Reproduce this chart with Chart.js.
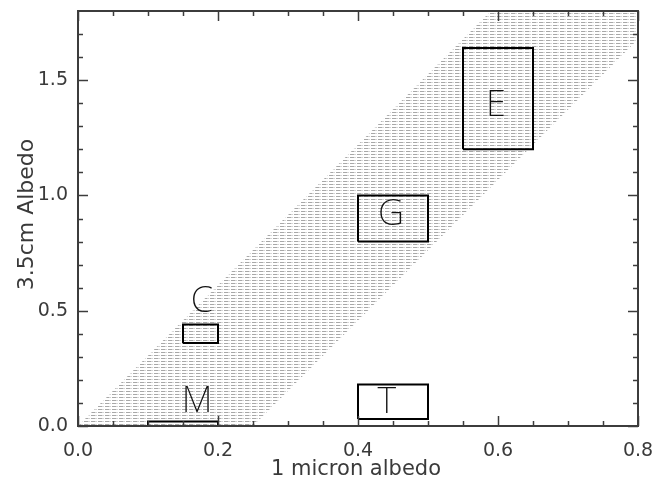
<!DOCTYPE html>
<html>
<head>
<meta charset="utf-8">
<script src="https://cdn.jsdelivr.net/npm/chart.js@4.4.1/dist/chart.umd.min.js"></script>
<style>
  html, body { margin: 0; padding: 0; background: #fff; }
  #wrap { width: 655px; height: 482px; }
</style>
</head>
<body>
<div id="wrap"><canvas id="albedo"></canvas></div>
<script>
// Boxes in the 1 micron / 3.5cm albedo plane
const boxNames = ['E', 'G', 'C', 'M', 'T'];
const boxXMin = [0.55, 0.40, 0.15, 0.10, 0.40];
const boxXMax = [0.65, 0.50, 0.20, 0.20, 0.50];
const boxYMin = [1.20, 0.80, 0.36, 0.00, 0.03];
const boxYMax = [1.64, 1.00, 0.44, 0.02, 0.18];
// where the letter for each box sits
const letterX = [0.597, 0.447, 0.177, 0.170, 0.441];
const letterY = [1.39, 0.915, 0.54, 0.105, 0.10];

// corners of the hatched band
const bandX = [0.00, 0.25, 0.84, 0.59];
const bandY = [0.00, 0.00, 1.80, 1.80];

// axis ticks
const xMajor = [0, 0.2, 0.4, 0.6, 0.8];
const yMajor = [0, 0.5, 1.0, 1.5];
const xMinor = [0.05, 0.1, 0.15, 0.25, 0.3, 0.35, 0.45, 0.5, 0.55, 0.65, 0.7, 0.75];
const yMinor = [0.1, 0.2, 0.3, 0.4, 0.6, 0.7, 0.8, 0.9, 1.1, 1.2, 1.3, 1.4, 1.6, 1.7];

const FONT = '"DejaVu Sans", sans-serif';
const TEXT = '#3a3a3a';

function hatchPattern() {
    // light horizontal dotted lines every 3px
    const p = document.createElement('canvas');
    p.width = 7;
    p.height = 3;
    const g = p.getContext('2d');
    g.fillStyle = '#a8a8a8';
    g.fillRect(0, 1, 4, 1);
    g.fillStyle = '#d6d6d6';
    g.fillRect(4, 1, 2, 1);
    return g.createPattern(p, 'repeat');
}

const ctx = document.getElementById('albedo').getContext('2d');

// the band goes underneath everything (higher order is drawn first)
const datasets = [{
    data: bandX.map((x, i) => ({ x, y: bandY[i] })),
    order: 10,
    showLine: true,
    fill: 'shape',
    backgroundColor: hatchPattern(),
    borderColor: 'rgba(0,0,0,0)',
    borderWidth: 0,
    pointRadius: 0
}];

boxNames.forEach((name, i) => {
    datasets.push({
        label: name,
        order: 0,
        data: [
            { x: boxXMin[i], y: boxYMin[i] },
            { x: boxXMax[i], y: boxYMin[i] },
            { x: boxXMax[i], y: boxYMax[i] },
            { x: boxXMin[i], y: boxYMax[i] },
            { x: boxXMin[i], y: boxYMin[i] }
        ],
        showLine: true,
        fill: false,
        borderColor: '#000',
        borderWidth: 2,
        borderJoinStyle: 'miter',
        pointRadius: 0,
        tension: 0
    });
});

// frame, inward ticks, box letters and axis titles
const decorations = {
    id: 'decorations',
    afterDatasetsDraw(chart) {
        const { ctx, chartArea: a, scales: { x, y } } = chart;
        ctx.save();

        ctx.strokeStyle = '#3c3c3c';
        ctx.lineWidth = 2;
        ctx.strokeRect(a.left, a.top, a.right - a.left, a.bottom - a.top);

        const line = (x1, y1, x2, y2) => {
            ctx.beginPath();
            ctx.moveTo(x1, y1);
            ctx.lineTo(x2, y2);
            ctx.stroke();
        };
        ctx.lineWidth = 1.5;
        const xTicks = (vals, len) => vals.forEach(v => {
            const px = Math.round(x.getPixelForValue(v)) + 0.5;
            line(px, a.bottom, px, a.bottom - len);
            line(px, a.top, px, a.top + len);
        });
        const yTicks = (vals, len) => vals.forEach(v => {
            const py = Math.round(y.getPixelForValue(v)) + 0.5;
            line(a.left, py, a.left + len, py);
            line(a.right, py, a.right - len, py);
        });
        xTicks(xMajor, 10);
        xTicks(xMinor, 5);
        yTicks(yMajor, 10);
        yTicks(yMinor, 5);

        ctx.fillStyle = '#111';
        ctx.font = '200 36px "Noto Sans", sans-serif';
        ctx.textAlign = 'center';
        ctx.textBaseline = 'middle';
        boxNames.forEach((name, i) => {
            ctx.fillText(name, x.getPixelForValue(letterX[i]), y.getPixelForValue(letterY[i]));
        });

        // axis titles, centred on each axis
        ctx.fillStyle = TEXT;
        ctx.font = '21px ' + FONT;
        ctx.textBaseline = 'alphabetic';
        ctx.fillText('1 micron albedo', (a.left + a.right) / 2 - 2, 475);

        ctx.translate(33, (a.top + a.bottom) / 2 - 4);
        ctx.rotate(-Math.PI / 2);
        ctx.font = '22px ' + FONT;
        ctx.fillText('3.5cm Albedo', 0, 0);
        ctx.restore();
    }
};

new Chart(ctx, {
    type: 'scatter',
    data: { datasets },
    options: {
        responsive: true,
        maintainAspectRatio: false,
        animation: false,
        layout: { padding: { top: 11, right: 17, left: 0, bottom: 0 } },
        plugins: {
            legend: { display: false },
            tooltip: { enabled: false }
        },
        scales: {
            x: {
                type: 'linear',
                min: 0,
                max: 0.8,
                afterBuildTicks: s => { s.ticks = xMajor.map(value => ({ value })); },
                afterFit: s => { s.height = 56; s.paddingRight = 0; s.paddingLeft = 0; },
                grid: { display: false, drawTicks: false },
                border: { display: false },
                ticks: {
                    padding: 14,
                    color: TEXT,
                    font: { family: FONT, size: 19 },
                    callback: v => v.toFixed(1)
                }
            },
            y: {
                type: 'linear',
                min: 0,
                max: 1.8,
                afterBuildTicks: s => { s.ticks = yMajor.map(value => ({ value })); },
                afterFit: s => { s.width = 78; s.paddingTop = 0; s.paddingBottom = 0; },
                grid: { display: false, drawTicks: false },
                border: { display: false },
                ticks: {
                    padding: 10,
                    color: TEXT,
                    font: { family: FONT, size: 19 },
                    callback: v => v.toFixed(1)
                }
            }
        }
    },
    plugins: [decorations]
});
</script>
</body>
</html>
